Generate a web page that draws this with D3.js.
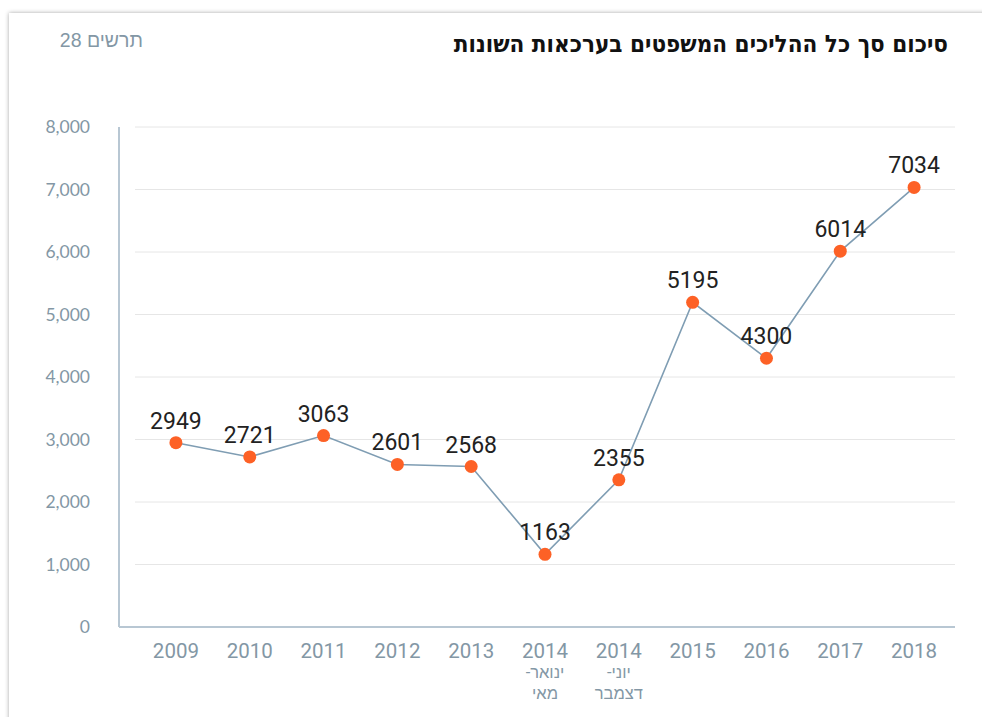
<!DOCTYPE html>
<html><head><meta charset="utf-8">
<script src="https://cdn.jsdelivr.net/npm/d3@7"></script>
<style>
body{margin:0;background:#fff;}
svg{display:block;}
</style></head><body>
<svg id="c" width="982" height="717"></svg>
<script>
const categories = ["2009","2010","2011","2012","2013","2014a","2014b","2015","2016","2017","2018"];
const catLine1 = ["2009","2010","2011","2012","2013","2014","2014","2015","2016","2017","2018"];
const catLine2 = ["","","","","","ינואר-","יוני-","","","",""];
const catLine3 = ["","","","","","מאי","דצמבר","","","",""];
const values = [2949,2721,3063,2601,2568,1163,2355,5195,4300,6014,7034];
const yTicks = [0,1000,2000,3000,4000,5000,6000,7000,8000];
const title = "סיכום סך כל ההליכים המשפטים בערכאות השונות";
const subtitle = "תרשים 28";

const svg = d3.select("#c");
// card
const defs = svg.append("defs");
const f = defs.append("filter").attr("id","sh").attr("x","-5%").attr("y","-5%").attr("width","110%").attr("height","110%");
f.append("feDropShadow").attr("dx",0).attr("dy",0).attr("stdDeviation",2).attr("flood-color","#000").attr("flood-opacity",0.35);
svg.append("rect").attr("x",9).attr("y",13).attr("width",990).attr("height",720).attr("fill","#fff").attr("filter","url(#sh)");

const x = d3.scalePoint().domain(categories).range([139,951]).padding(0.5);
const y = d3.scaleLinear().domain([0,8000]).range([627,127]);

// gridlines
svg.append("g").selectAll("line").data(yTicks.filter(d=>d>0)).join("line")
  .attr("x1",135).attr("x2",955).attr("y1",d=>y(d)).attr("y2",d=>y(d))
  .attr("stroke","#e6e6e6").attr("stroke-width",1);

// axes
const yAxis = svg.append("g").attr("transform","translate(119,0)")
  .call(d3.axisLeft(y).tickValues(yTicks).tickSize(0).tickPadding(29).tickFormat(d3.format(",")));
yAxis.select(".domain").attr("stroke","#b8c7d3").attr("stroke-width",2).attr("d","M0,"+y(8000)+"V"+y(0));
yAxis.selectAll("text").attr("fill","#8397a5").attr("font-family","Lato, 'Open Sans', sans-serif").attr("font-size",17.5);

const xAxis = svg.append("g").attr("transform","translate(0,627)")
  .call(d3.axisBottom(x).tickSize(0).tickFormat(""));
xAxis.select(".domain").attr("stroke","#b8c7d3").attr("stroke-width",2).attr("d","M119,0H955");
const xt = svg.append("g").attr("font-family","Roboto, sans-serif").attr("fill","#8397a5").attr("text-anchor","middle");
categories.forEach((c,i)=>{
  xt.append("text").attr("x",x(c)).attr("y",658).attr("font-size",20.5).text(catLine1[i]);
  if(catLine2[i]) xt.append("text").attr("x",x(c)).attr("y",678).attr("font-size",16.5).attr("direction","rtl").attr("text-anchor","middle").text(catLine2[i]);
  if(catLine3[i]) xt.append("text").attr("x",x(c)).attr("y",699).attr("font-size",16.5).attr("direction","rtl").attr("text-anchor","middle").text(catLine3[i]);
});

// line
const line = d3.line().x((d,i)=>x(categories[i])).y(d=>y(d));
svg.append("path").datum(values).attr("d",line).attr("fill","none").attr("stroke","#7f9db3").attr("stroke-width",1.6);
svg.append("g").selectAll("circle").data(values).join("circle")
  .attr("cx",(d,i)=>x(categories[i])).attr("cy",d=>y(d)).attr("r",6.5).attr("fill","#fd6126");
svg.append("g").selectAll("text").data(values).join("text")
  .attr("x",(d,i)=>x(categories[i])).attr("y",d=>y(d)-14).attr("text-anchor","middle")
  .attr("font-family","Roboto, sans-serif").attr("font-size",23).attr("fill","#222").text(d=>d);

// titles
svg.append("text").attr("x",948).attr("y",52).attr("text-anchor","start").attr("direction","rtl")
  .attr("font-family","'Liberation Sans Narrow', 'DejaVu Sans Condensed', sans-serif").attr("font-weight","bold").attr("font-size",24).attr("fill","#111").text(title);
svg.append("text").attr("x",143).attr("y",47).attr("text-anchor","start").attr("direction","rtl")
  .attr("font-family","'Liberation Sans Narrow', sans-serif").attr("font-size",19.5).attr("fill","#8397a5").text(subtitle);
</script></body></html>
